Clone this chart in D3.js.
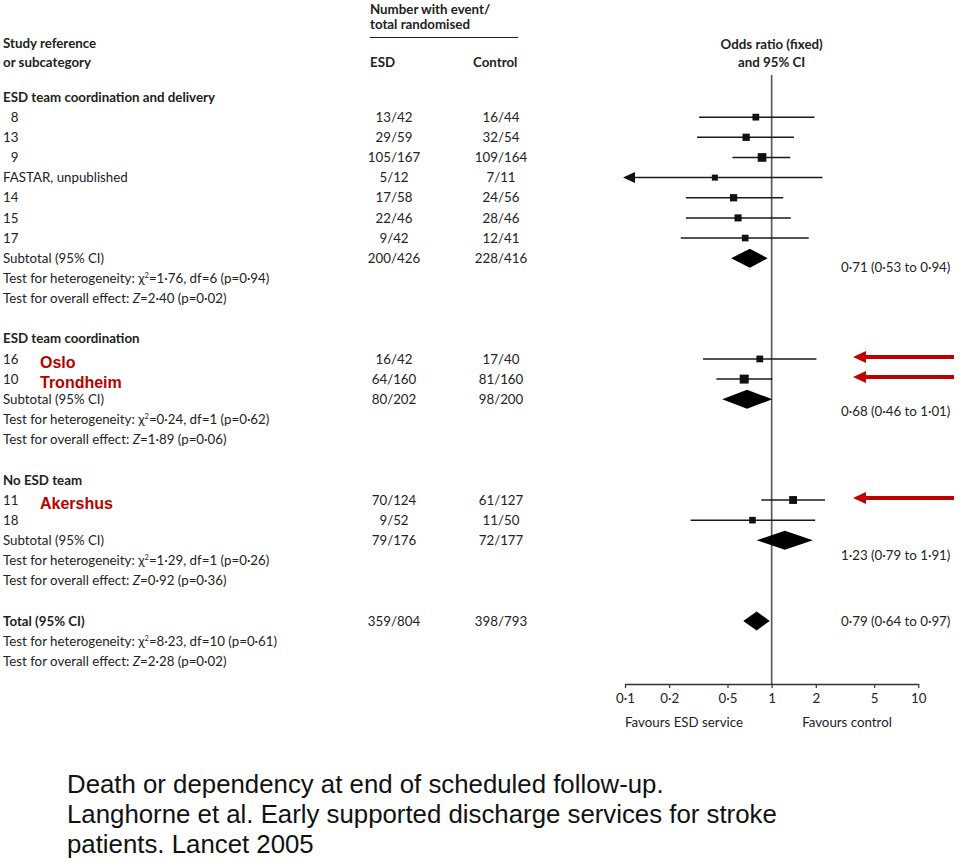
<!DOCTYPE html>
<html>
<head>
<meta charset="utf-8">
<script src="https://cdn.jsdelivr.net/npm/d3@7/dist/d3.min.js"></script>
<style>
  html, body { margin: 0; padding: 0; background: #fff; }
  svg { display: block; }
  .t { font-family: Lato, "Open Sans", sans-serif; font-size: 13.3px; fill: #222; }
  .b { font-weight: bold; }
  .cap { font-family: "Liberation Sans", Arial, sans-serif; font-size: 25.8px; fill: #111; }
  .red { font-family: "Liberation Sans", Arial, sans-serif; font-size: 16px; font-weight: bold; fill: #b80000; }
</style>
</head>
<body>
<svg id="chart" width="960" height="863"></svg>
<script>
// ---------------- data ----------------
const groupNames = ["ESD team coordination and delivery", "ESD team coordination", "No ESD team"];

const studyLabels = ["\u20078", "13", "\u20079", "FASTAR, unpublished", "14", "15", "17", "16", "10", "11", "18"];
const studyGroup  = [0, 0, 0, 0, 0, 0, 0, 1, 1, 2, 2];
const studyESD    = ["13/42", "29/59", "105/167", "5/12", "17/58", "22/46", "9/42", "16/42", "64/160", "70/124", "9/52"];
const studyCtrl   = ["16/44", "32/54", "109/164", "7/11", "24/56", "28/46", "12/41", "17/40", "81/160", "61/127", "11/50"];
const studyOR     = [0.78, 0.67, 0.86, 0.41, 0.55, 0.59, 0.66, 0.83, 0.65, 1.40, 0.74];
const studyLow    = [0.32, 0.31, 0.54, 0.076, 0.26, 0.26, 0.24, 0.34, 0.42, 0.85, 0.28];
const studyHigh   = [1.96, 1.42, 1.34, 2.22, 1.20, 1.35, 1.79, 2.02, 1.01, 2.31, 1.98];
const studyWeight = [5.2, 8.1, 19.5, 2.0, 8.2, 7.0, 4.6, 5.2, 23.3, 12.5, 4.4];

const highlightStudy = [7, 8, 9];
const highlightName  = ["Oslo", "Trondheim", "Akershus"];

const summaryLabels = ["Subtotal (95% CI)", "Subtotal (95% CI)", "Subtotal (95% CI)", "Total (95% CI)"];
const summaryESD    = ["200/426", "80/202", "79/176", "359/804"];
const summaryCtrl   = ["228/416", "98/200", "72/177", "398/793"];
const summaryOR     = [0.71, 0.68, 1.23, 0.79];
const summaryLow    = [0.53, 0.46, 0.79, 0.64];
const summaryHigh   = [0.94, 1.01, 1.91, 0.97];
const summaryText   = ["0·71 (0·53 to 0·94)", "0·68 (0·46 to 1·01)", "1·23 (0·79 to 1·91)", "0·79 (0·64 to 0·97)"];
const hetChi  = ["1·76", "0·24", "1·29", "8·23"];
const hetDf   = ["6", "1", "1", "10"];
const hetP    = ["0·94", "0·62", "0·26", "0·61"];
const effZ    = ["2·40", "1·89", "0·92", "2·28"];
const effP    = ["0·02", "0·06", "0·36", "0·02"];

const tickValues = [0.1, 0.2, 0.5, 1, 2, 5, 10];
const tickLabels = ["0·1", "0·2", "0·5", "1", "2", "5", "10"];

const captionLines = [
  "Death or dependency at end of scheduled follow-up.",
  "Langhorne et al. Early supported discharge services for stroke",
  "patients. Lancet 2005"
];

// ---------------- layout ----------------
const svg = d3.select("#chart");

const lines = [];
for (let g = 0; g < 3; g++) {
  lines.push({type: "group", g});
  studyLabels.forEach((l, i) => { if (studyGroup[i] === g) lines.push({type: "study", i}); });
  lines.push({type: "summary", s: g});
  lines.push({type: "het", s: g});
  lines.push({type: "eff", s: g});
  lines.push({type: "blank"});
}
lines.push({type: "summary", s: 3});
lines.push({type: "het", s: 3});
lines.push({type: "eff", s: 3});
lines.forEach((d, k) => d.k = k);

const y = d3.scaleLinear().domain([0, lines.length - 1]).range([97, 661.2]);
const x = d3.scaleLog().domain([0.1, 10]).range([625, 918.3]);
const sq = d3.scaleSqrt().domain([2, 23.3]).range([6, 9]);

const xLabel = 3, xESD = 394, xCtrl = 501, xRight = 841;
const summaryTextOffset = [0.45, 0.6, 0.75, 0];

// header
const hdr = svg.append("g").attr("class", "t b");
hdr.append("text").attr("x", xLabel).attr("y", 43).attr("dy", "0.35em").text("Study reference");
hdr.append("text").attr("x", xLabel).attr("y", 62).attr("dy", "0.35em").text("or subcategory");
hdr.append("text").attr("x", 370).attr("y", 9).attr("dy", "0.35em").text("Number with event/");
hdr.append("text").attr("x", 370).attr("y", 24).attr("dy", "0.35em").text("total randomised");
hdr.append("text").attr("x", 370).attr("y", 62).attr("dy", "0.35em").text("ESD");
hdr.append("text").attr("x", 473).attr("y", 62).attr("dy", "0.35em").text("Control");
hdr.append("text").attr("x", x(1)).attr("y", 44).attr("dy", "0.35em").attr("text-anchor", "middle").text("Odds ratio (fixed)");
hdr.append("text").attr("x", x(1)).attr("y", 62).attr("dy", "0.35em").attr("text-anchor", "middle").text("and 95% CI");
svg.append("line").attr("x1", 370).attr("x2", 518).attr("y1", 37.5).attr("y2", 37.5)
  .attr("stroke", "#222").attr("stroke-width", 1);

// vertical line of no effect
svg.append("line").attr("x1", x(1)).attr("x2", x(1)).attr("y1", 75).attr("y2", 684)
  .attr("stroke", "#555").attr("stroke-width", 1.6);

const g = svg.append("g");

lines.forEach(d => {
  const yy = y(d.k);
  if (d.type === "group") {
    g.append("text").attr("class", "t b").attr("x", xLabel).attr("y", yy).attr("dy", "0.35em").text(groupNames[d.g]);
  } else if (d.type === "study") {
    const i = d.i;
    g.append("text").attr("class", "t").attr("x", xLabel).attr("y", yy).attr("dy", "0.35em").text(studyLabels[i]);
    g.append("text").attr("class", "t").attr("x", xESD).attr("y", yy).attr("dy", "0.35em").attr("text-anchor", "middle").text(studyESD[i]);
    g.append("text").attr("class", "t").attr("x", xCtrl).attr("y", yy).attr("dy", "0.35em").attr("text-anchor", "middle").text(studyCtrl[i]);
    const lo = Math.max(studyLow[i], 0.1);
    const x0 = studyLow[i] < 0.1 ? x(0.1) + 10 : x(lo);
    g.append("line").attr("x1", x0).attr("x2", x(studyHigh[i])).attr("y1", yy).attr("y2", yy)
      .attr("stroke", "#1a1a1a").attr("stroke-width", 1.5);
    if (studyLow[i] < 0.1) {
      const tip = x(0.1) - 2;
      g.append("path").attr("d", `M${tip},${yy} L${tip + 12},${yy - 5.5} L${tip + 12},${yy + 5.5} Z`).attr("fill", "#111");
    }
    const s = sq(studyWeight[i]);
    g.append("rect").attr("x", x(studyOR[i]) - s / 2).attr("y", yy - s / 2).attr("width", s).attr("height", s).attr("fill", "#111");
    const h = highlightStudy.indexOf(i);
    if (h >= 0) {
      g.append("text").attr("class", "red").attr("x", 40).attr("y", yy + 3).attr("dy", "0.35em").text(highlightName[h]);
      const tip = 853, end = 954;
      g.append("line").attr("x1", tip + 10).attr("x2", end).attr("y1", yy - 2).attr("y2", yy - 2)
        .attr("stroke", "#c00000").attr("stroke-width", 4);
      g.append("path").attr("d", `M${tip},${yy - 2} L${tip + 13},${yy - 8} L${tip + 13},${yy + 4} Z`).attr("fill", "#c00000");
    }
  } else if (d.type === "summary") {
    const s = d.s;
    g.append("text").attr("class", s === 3 ? "t b" : "t").attr("x", xLabel).attr("y", yy).attr("dy", "0.35em").text(summaryLabels[s]);
    g.append("text").attr("class", "t").attr("x", xESD).attr("y", yy).attr("dy", "0.35em").attr("text-anchor", "middle").text(summaryESD[s]);
    g.append("text").attr("class", "t").attr("x", xCtrl).attr("y", yy).attr("dy", "0.35em").attr("text-anchor", "middle").text(summaryCtrl[s]);
    const hh = 9.5;
    g.append("path").attr("d", `M${x(summaryLow[s])},${yy} L${x(summaryOR[s])},${yy - hh} L${x(summaryHigh[s])},${yy} L${x(summaryOR[s])},${yy + hh} Z`)
      .attr("fill", "#000");
    const ty = y(d.k + summaryTextOffset[s]);
    g.append("text").attr("class", "t").attr("x", xRight).attr("y", ty).attr("dy", "0.35em").text(summaryText[s]);
  } else if (d.type === "het") {
    const s = d.s;
    const t = g.append("text").attr("class", "t").attr("x", xLabel).attr("y", yy).attr("dy", "0.35em");
    t.append("tspan").text("Test for heterogeneity: χ");
    t.append("tspan").attr("font-size", "7.5px").attr("dy", "-5").text("2");
    t.append("tspan").attr("dy", "5").text(`=${hetChi[s]}, df=${hetDf[s]} (p=${hetP[s]})`);
  } else if (d.type === "eff") {
    const s = d.s;
    const t = g.append("text").attr("class", "t").attr("x", xLabel).attr("y", yy).attr("dy", "0.35em");
    t.append("tspan").text("Test for overall effect: ");
    t.append("tspan").attr("font-style", "italic").text("Z");
    t.append("tspan").text(`=${effZ[s]} (p=${effP[s]})`);
  }
});

// axis
const axis = d3.axisBottom(x).tickValues(tickValues).tickFormat((v, i) => tickLabels[i]).tickSize(4).tickSizeOuter(0);
const ax = svg.append("g").attr("transform", "translate(0,684)").call(axis);
ax.select(".domain").attr("stroke", "#333").attr("stroke-width", 1.3);
ax.selectAll(".tick line").attr("stroke", "#333").attr("stroke-width", 1.2);
ax.selectAll(".tick text").attr("class", "t").attr("fill", "#222").attr("font-size", null).attr("font-family", null).attr("dy", "0.9em");

svg.append("text").attr("class", "t").attr("x", 684).attr("y", 722).attr("dy", "0.35em").attr("text-anchor", "middle").text("Favours ESD service");
svg.append("text").attr("class", "t").attr("x", 847).attr("y", 722).attr("dy", "0.35em").attr("text-anchor", "middle").text("Favours control");

// caption
captionLines.forEach((l, i) => {
  svg.append("text").attr("class", "cap").attr("x", 67).attr("y", 793 + i * 30).text(l);
});
</script>
</body>
</html>
